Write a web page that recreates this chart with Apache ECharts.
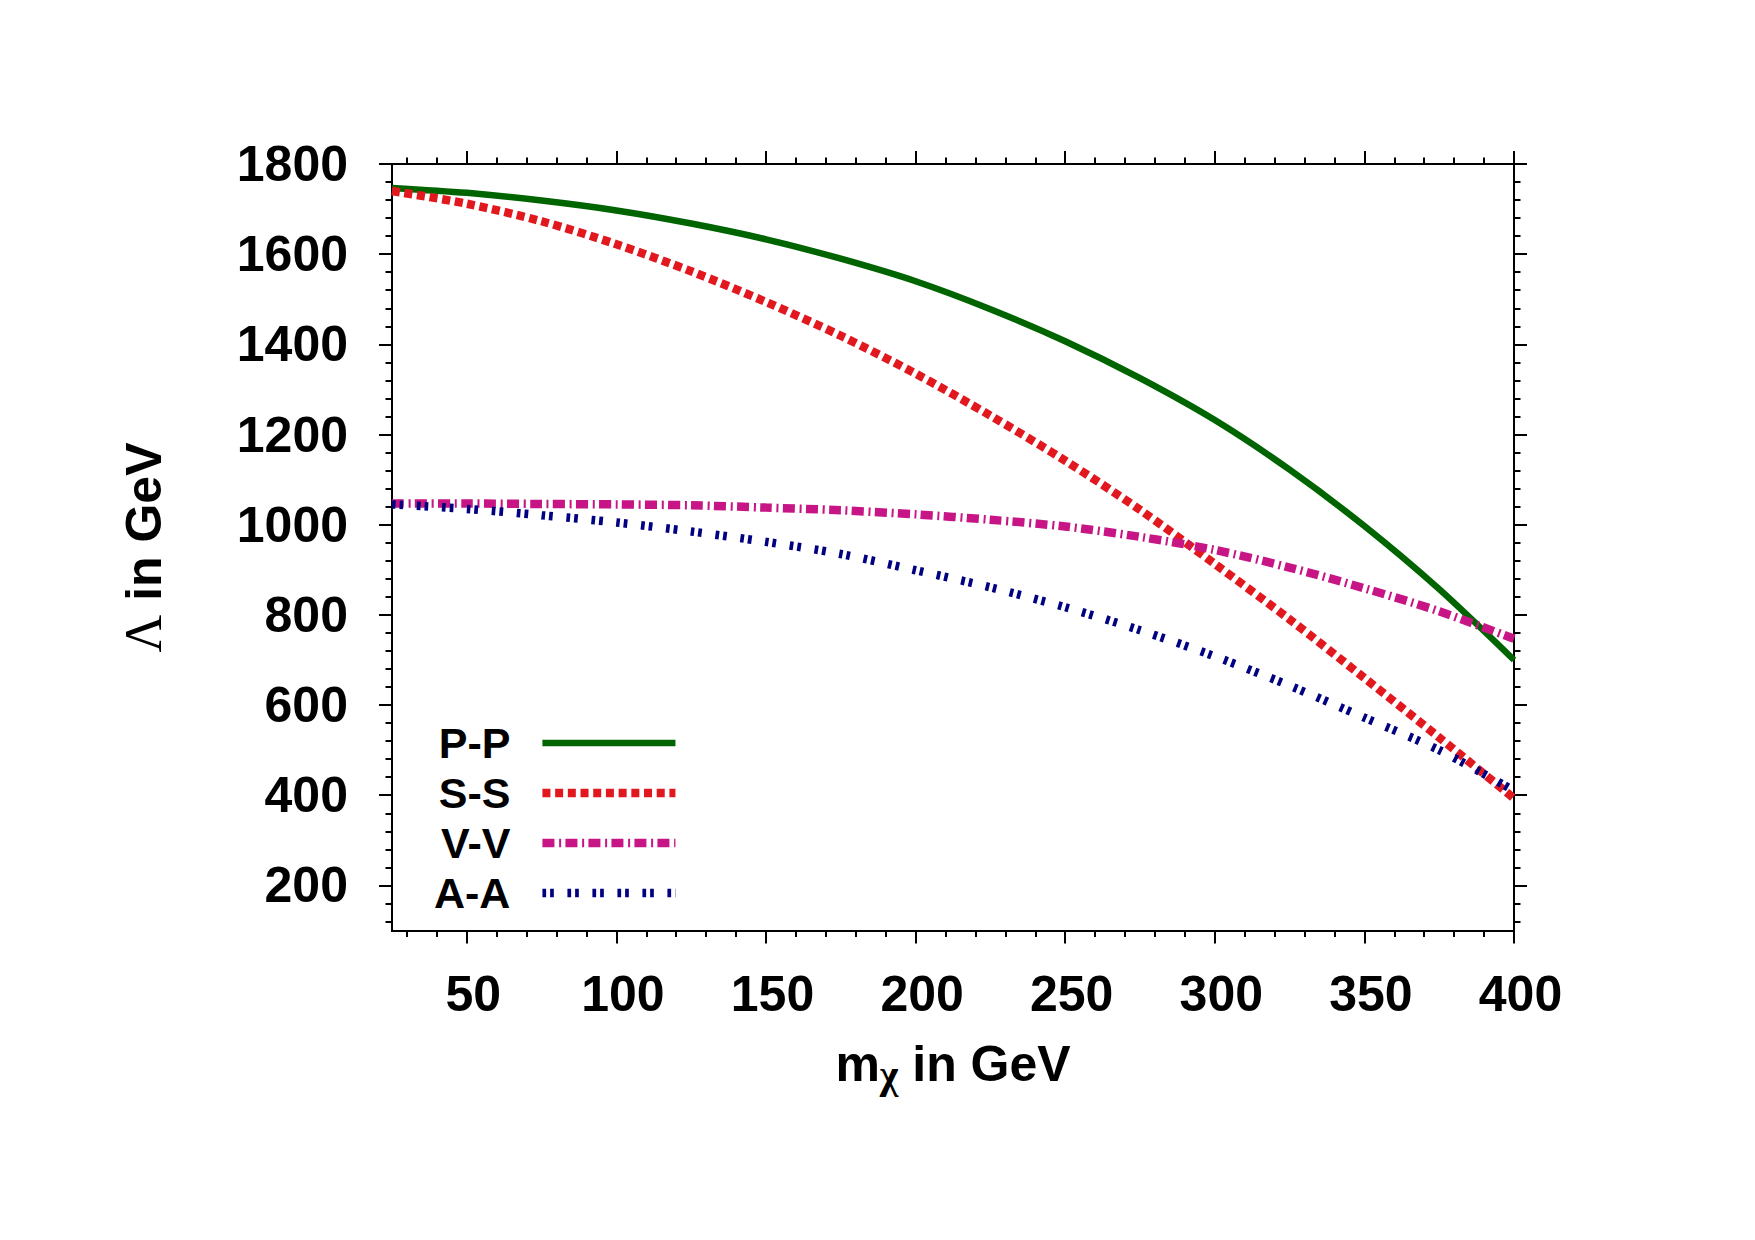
<!DOCTYPE html>
<html><head><meta charset="utf-8">
<script src="https://cdn.jsdelivr.net/npm/echarts@6/dist/echarts.min.js"></script>
<style>html,body{margin:0;padding:0;background:#fff}#c{width:1755px;height:1240px}</style>
</head><body><div id="c"></div>
<script>
// ---- data ----
const massX    = [25, 50, 75, 100, 125, 150, 175, 200, 225, 250, 275, 300, 325, 350, 375, 400];
const lambdaPP = [1747, 1736, 1719, 1697, 1668, 1633, 1590, 1540, 1478, 1407, 1325, 1232, 1122, 997, 857, 700];
const lambdaSS = [1740, 1712, 1673, 1622, 1562, 1494, 1419, 1335, 1242, 1142, 1033, 913, 790, 660, 528, 393];
const lambdaVV = [1047, 1047, 1046, 1045, 1043, 1038, 1032, 1023, 1011, 996, 973, 944, 905, 859, 808, 747];
const lambdaAA = [1045, 1035, 1021, 1005, 985, 962, 935, 899, 861, 817, 766, 708, 643, 572, 500, 410];
const seriesNames = ['P-P', 'S-S', 'V-V', 'A-A'];
const xTickLabels = [50, 100, 150, 200, 250, 300, 350, 400];
const yTickLabels = [200, 400, 600, 800, 1000, 1200, 1400, 1600, 1800];
const xMinorTicks = [];
for (let v = 30; v <= 400; v += 10) xMinorTicks.push(v);
const yMinorTicks = [];
for (let v = 120; v <= 1800; v += 40) yMinorTicks.push(v);

const X_MIN = 25, X_MAX = 400, Y_MIN = 100, Y_MAX = 1800;
const FONT = 'Liberation Sans';
const labelFont = {fontFamily: FONT, fontWeight: 'bold', fontSize: 50, color: '#000'};
const plain = v => String(v);

function xAxisDef(pos, ticks, len, withLabels) {
  return {
    type: 'value', position: pos, min: X_MIN, max: X_MAX,
    axisLine: {show: true, onZero: false, lineStyle: {color: '#000', width: 2}},
    axisTick: {show: true, customValues: ticks, length: len, lineStyle: {color: '#000', width: 2}},
    axisLabel: withLabels ? Object.assign({show: true, customValues: xTickLabels, margin: 38, padding: [0, 0, 0, 13], formatter: plain}, labelFont) : {show: false},
    splitLine: {show: false}
  };
}
function yAxisDef(pos, ticks, len, withLabels) {
  return {
    type: 'value', position: pos, min: Y_MIN, max: Y_MAX,
    axisLine: {show: true, onZero: false, lineStyle: {color: '#000', width: 2}},
    axisTick: {show: true, customValues: ticks, length: len, lineStyle: {color: '#000', width: 2}},
    axisLabel: withLabels ? Object.assign({show: true, customValues: yTickLabels, margin: 44, formatter: plain}, labelFont) : {show: false},
    splitLine: {show: false}
  };
}
function pairs(ys) { return massX.map((x, i) => [x, ys[i]]); }

const styles = [
  {color: '#006400', width: 6.5, type: 'solid'},
  {color: '#e2181f', width: 8.5, type: [8, 4.7]},
  {color: '#c71585', width: 8.5, type: [12, 4.7, 2, 4.3]},
  {color: '#000080', width: 8.5, type: [3.7, 4, 3.7, 13.6]}
];
const values = [lambdaPP, lambdaSS, lambdaVV, lambdaAA];

const chart = echarts.init(document.getElementById('c'), null, {renderer: 'svg'});
chart.setOption({
  backgroundColor: '#fff',
  animation: false,
  grid: {left: 392, top: 164, width: 1122, height: 766.5},
  xAxis: [
    xAxisDef('bottom', xTickLabels, 13, true),
    xAxisDef('bottom', xMinorTicks, 6.5, false),
    xAxisDef('top', xTickLabels, 13, false),
    xAxisDef('top', xMinorTicks, 6.5, false)
  ],
  yAxis: [
    yAxisDef('left', yTickLabels, 13, true),
    yAxisDef('left', yMinorTicks, 6.5, false),
    yAxisDef('right', yTickLabels, 13, false),
    yAxisDef('right', yMinorTicks, 6.5, false)
  ],
  legend: {
    orient: 'vertical', left: 434, top: 718, padding: 0, itemGap: 0,
    itemWidth: 133, itemHeight: 50, align: 'right', selectedMode: false,
    data: seriesNames,
    textStyle: {fontFamily: FONT, fontWeight: 'bold', fontSize: 43, color: '#000', padding: [0, 27, 0, 0], lineHeight: 50},
    itemStyle: {opacity: 0},
    lineStyle: {width: 'inherit'}
  },
  series: seriesNames.map((name, i) => ({
    name: name, type: 'line', xAxisIndex: 0, yAxisIndex: 0,
    data: pairs(values[i]), smooth: 0.3, symbol: 'none', showSymbol: false,
    lineStyle: {color: styles[i].color, width: styles[i].width, type: styles[i].type, cap: 'butt'},
    itemStyle: {color: styles[i].color},
    emphasis: {disabled: true}
  })),
  graphic: [
    {type: 'text', x: 953, y: 1064, style: {
      text: 'm{sub|χ} in GeV', fill: '#000', fontFamily: FONT, fontWeight: 'bold', fontSize: 50,
      lineHeight: 60, align: 'center', verticalAlign: 'middle',
      rich: {sub: {fontFamily: 'Liberation Serif', fontWeight: 'bold', fontSize: 40, lineHeight: 24, verticalAlign: 'bottom', fill: '#000'}}
    }},
    {type: 'text', x: 143.5, y: 547.5, rotation: Math.PI / 2, style: {
      text: '{l|Λ} in GeV', fill: '#000', fontFamily: FONT, fontWeight: 'bold', fontSize: 50,
      align: 'center', verticalAlign: 'middle',
      rich: {l: {fontFamily: 'Liberation Serif', fontWeight: 'normal', fontSize: 52, fill: '#000'}}
    }}
  ]
});
</script></body></html>
